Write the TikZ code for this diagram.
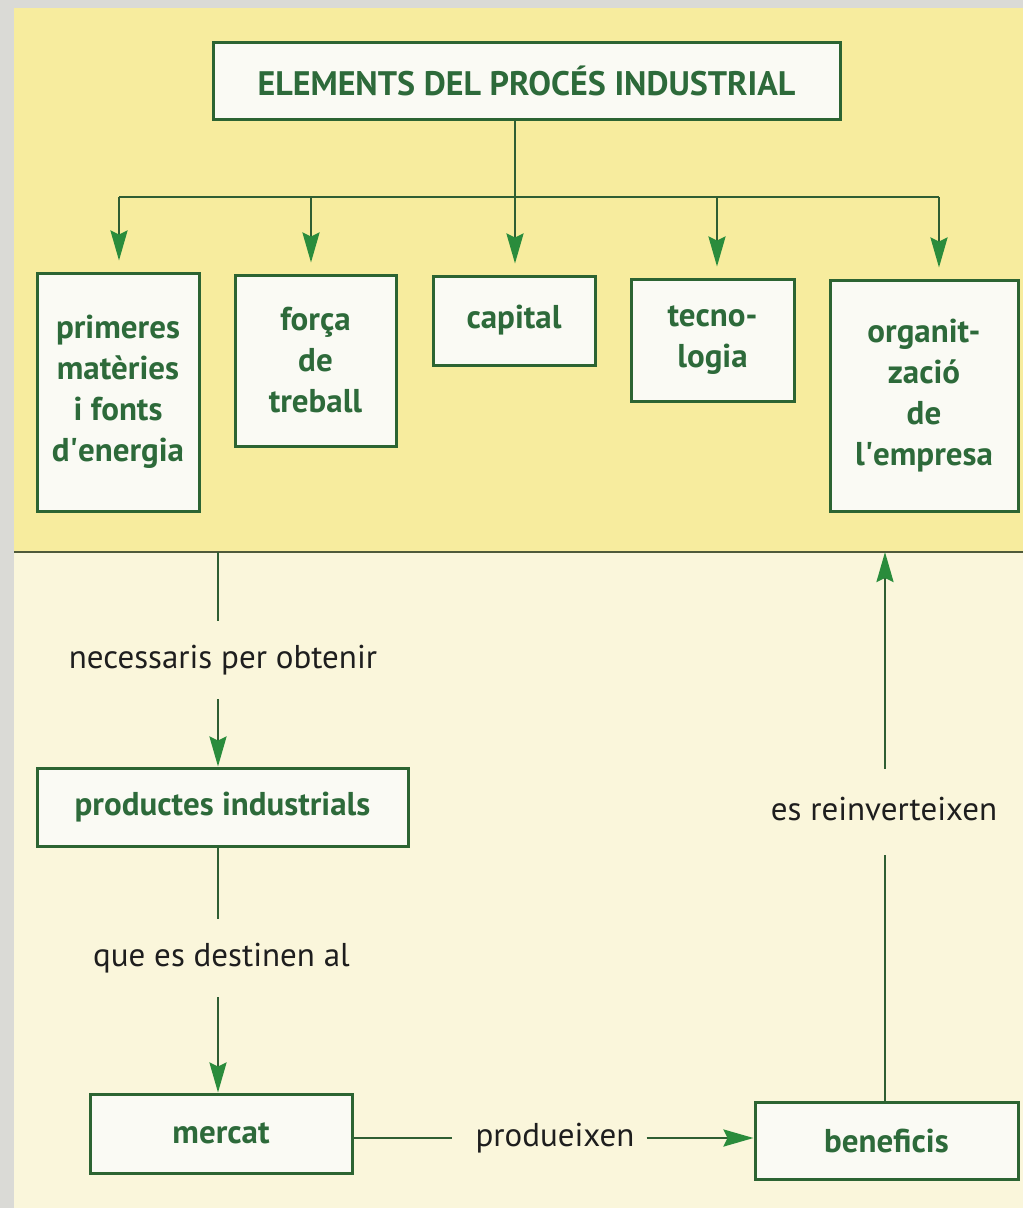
\documentclass[tikz,border=0pt]{standalone}
\usepackage{fontspec}
\setmainfont{PT Sans}
\usetikzlibrary{arrows.meta,calc}
\definecolor{bggray}{HTML}{DADAD6}
\definecolor{topyellow}{HTML}{F7EC9E}
\definecolor{lowcream}{HTML}{FAF6DB}
\definecolor{boxgreen}{HTML}{2C6432}
\definecolor{txtgreen}{HTML}{2D6A3A}
\definecolor{headgreen}{HTML}{2A8C3C}
\definecolor{linegreen}{HTML}{2F5E33}
\definecolor{boxfill}{HTML}{FAFAF4}
\definecolor{seplinecol}{HTML}{4F5A3A}
\definecolor{labeltxt}{HTML}{1E1E1E}
\newcommand{\apos}{\textquotesingle}
\tikzset{
  greenbox/.style={draw=boxgreen, line width=3pt, fill=boxfill, rectangle,
    inner sep=0pt, align=center, text=txtgreen,
    font=\bfseries\fontsize{33pt}{41pt}\selectfont},
  titlebox/.style={greenbox, font=\bfseries\fontsize{34pt}{38pt}\selectfont},
  flowlabel/.style={inner xsep=17pt, inner ysep=24pt, text=labeltxt,
    text height=23pt, text depth=7pt, anchor=base,
    font=\fontsize{33pt}{38pt}\selectfont},
  conn/.style={draw=linegreen, line width=2.6pt},
  arr/.style={conn, -{Stealth[length=30pt, width=17pt, inset=4pt, color=headgreen, fill=headgreen]}}
}
\begin{document}
\begin{tikzpicture}[x=1pt, y=-1pt]
\useasboundingbox (0,0) rectangle (1023,1208);
% background
\fill[bggray] (0,0) rectangle (1023,1208);
\fill[topyellow] (14,8) rectangle (1023,552);
\fill[lowcream] (14,552) rectangle (1023,1208);
\draw[seplinecol, line width=2pt] (14,552) -- (1023,552);
\coordinate (sepL) at (218,552);
\coordinate (sepR) at (885,552);

% title
\node[titlebox, minimum width=627pt, minimum height=77pt] (title) at (526.5,80.5)
  {ELEMENTS DEL PROCÉS INDUSTRIAL};

% element boxes
\node[greenbox, minimum width=162pt, minimum height=238pt] (b1) at (118,392)
  {primeres\\matèries\\i fonts\\d\apos energia};
\node[greenbox, minimum width=161pt, minimum height=171pt] (b2) at (315.5,360.5)
  {força\\de\\treball};
\node[greenbox, minimum width=162pt, minimum height=89pt] (b3) at (514,320.5)
  {capital};
\node[greenbox, minimum width=163pt, minimum height=122pt] (b4) at (712.5,340)
  {tecno-\\logia};
\node[greenbox, minimum width=188pt, minimum height=231pt] (b5) at (924,395.5)
  {organit-\\zació\\de\\l\apos empresa};

% tree connectors
\coordinate (bar0) at (515,197);
\coordinate (bar1) at (119,197);
\coordinate (bar2) at (311,197);
\coordinate (bar4) at (717,197);
\coordinate (bar5) at (939,197);
\draw[conn] (bar0 |- title.south) -- (bar0);
\draw[conn] (bar1) -- (bar5);
\draw[arr, shorten >=11pt] (bar1) -- (bar1 |- b1.north);
\draw[arr, shorten >=11pt] (bar2) -- (bar2 |- b2.north);
\draw[arr, shorten >=11pt] (bar0) -- (bar0 |- b3.north);
\draw[arr, shorten >=11pt] (bar4) -- (bar4 |- b4.north);
\draw[arr, shorten >=11pt] (bar5) -- (bar5 |- b5.north);

% lower flow
\node[greenbox, minimum width=371pt, minimum height=78pt] (prod) at (222.5,807)
  {productes industrials};
\node[greenbox, minimum width=262pt, minimum height=79pt] (mercat) at (221,1133.5)
  {mercat};
\node[greenbox, minimum width=263pt, minimum height=77pt] (benef) at (886.5,1140.5)
  {beneficis};

\node[flowlabel] (l1) at (223,668) {necessaris per obtenir};
\node[flowlabel] (l2) at (221.5,966) {que es destinen al};
\node[flowlabel, inner xsep=0pt] (l3) at (555,1146) {produeixen};
\node[flowlabel, inner ysep=28pt] (l4) at (884,820) {es reinverteixen};

\draw[conn] (sepL) -- (sepL |- l1.north);
\draw[arr] (sepL |- l1.south) -- (sepL |- prod.north);
\draw[conn] (sepL |- prod.south) -- (sepL |- l2.north);
\draw[arr] (sepL |- l2.south) -- (sepL |- mercat.north);
\coordinate (hy) at (0,1138);
\draw[conn] (mercat.east |- hy) -- ([xshift=-23pt]l3.west |- hy);
\draw[arr] ([xshift=12pt]l3.east |- hy) -- (benef.west |- hy);
\draw[conn] (sepR |- benef.north) -- (sepR |- l4.south);
\draw[arr] (sepR |- l4.north) -- (sepR);
\end{tikzpicture}
\end{document}
